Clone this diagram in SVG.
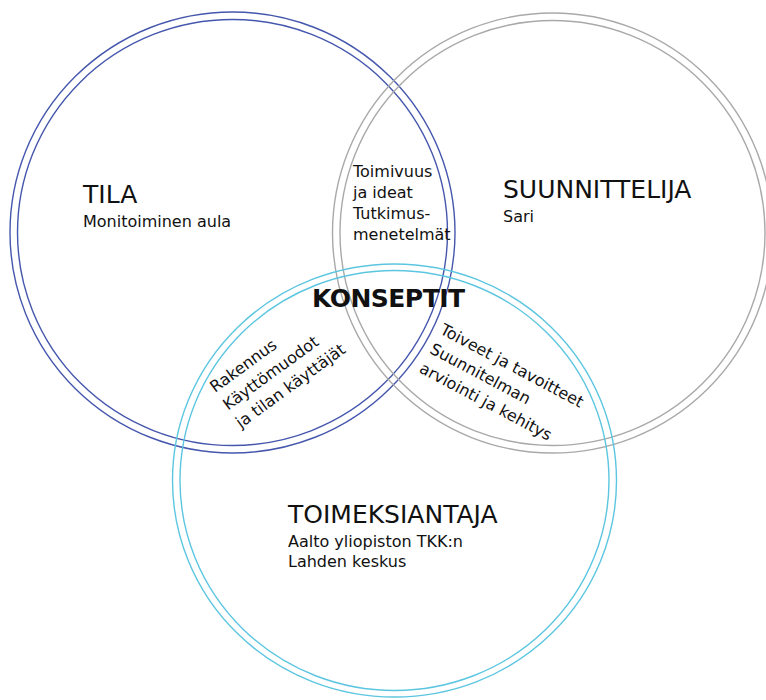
<svg xmlns="http://www.w3.org/2000/svg" width="766" height="700" viewBox="0 0 766 700">
<style>
  .ring { fill: none; stroke-width: 1.4; }
  .blue { stroke: #4557ad; }
  .gray { stroke: #a9a9a9; }
  .cyan { stroke: #5cc6e0; }
  text { font-family: "DejaVu Sans", Verdana, sans-serif; fill: #111; }
  .title { font-size: 25px; }
  .sub { font-size: 16px; }
  .bold { font-size: 25px; font-weight: bold; }
</style>
<rect width="766" height="700" fill="#ffffff"/>
<g id="tila">
  <ellipse class="ring blue" cx="232.5" cy="232.5" rx="222.5" ry="220.5"/>
  <ellipse class="ring blue" cx="232.5" cy="232.5" rx="215" ry="213"/>
  <text class="title" x="83" y="203">TILA</text>
  <text class="sub" x="83" y="227">Monitoiminen aula</text>
</g>
<g id="suunnittelija">
  <circle class="ring gray" cx="552.5" cy="233" r="220"/>
  <circle class="ring gray" cx="552.5" cy="233" r="212.5"/>
  <text class="title" x="503" y="198">SUUNNITTELIJA</text>
  <text class="sub" x="503" y="222">Sari</text>
</g>
<g id="toimeksiantaja">
  <ellipse class="ring cyan" cx="394.5" cy="480.5" rx="222" ry="216.5"/>
  <ellipse class="ring cyan" cx="394.5" cy="480.5" rx="214.5" ry="210"/>
  <text class="title" x="288" y="523">TOIMEKSIANTAJA</text>
  <text class="sub" x="288" y="547">Aalto yliopiston TKK:n</text>
  <text class="sub" x="288" y="567">Lahden keskus</text>
</g>
<g id="toimivuus">
  <text class="sub" x="353" y="177">Toimivuus</text>
  <text class="sub" x="353" y="198">ja ideat</text>
  <text class="sub" x="353" y="219">Tutkimus-</text>
  <text class="sub" x="353" y="240">menetelmät</text>
</g>
<g id="konseptit">
  <text class="bold" x="312" y="307" textLength="153">KONSEPTIT</text>
</g>
<g id="rakennus" transform="translate(215,393) rotate(-36)">
  <text class="sub" x="0" y="0">Rakennus</text>
  <text class="sub" x="0" y="22">Käyttömuodot</text>
  <text class="sub" x="0" y="44">ja tilan käyttäjät</text>
</g>
<g id="toiveet" transform="translate(439,333) rotate(28)">
  <text class="sub" x="0" y="0">Toiveet ja tavoitteet</text>
  <text class="sub" x="0" y="22">Suunnitelman</text>
  <text class="sub" x="0" y="44">arviointi ja kehitys</text>
</g>
</svg>
